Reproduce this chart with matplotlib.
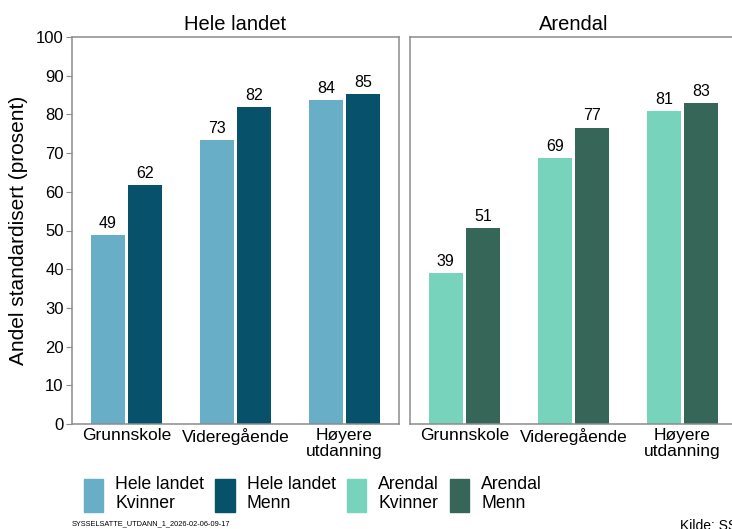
import matplotlib.pyplot as plt
from matplotlib.patches import Patch
import numpy as np

plt.rcParams['font.family'] = ['Liberation Sans', 'DejaVu Sans']

# data
categories = ['Grunnskole', 'Videregående', 'Høyere\nutdanning']
panels = ['Hele landet', 'Arendal']
kvinner = {'Hele landet': [48.9, 73.4, 83.7], 'Arendal': [39.1, 68.8, 80.9]}
menn = {'Hele landet': [61.8, 81.9, 85.2], 'Arendal': [50.6, 76.6, 82.9]}
colors = {'Hele landet': ('#68AEC6', '#07516A'), 'Arendal': ('#78D3BC', '#366657')}
yticks = list(range(0, 101, 10))

fig = plt.figure(figsize=(7.32, 5.29), dpi=100)
W, H = 732, 529
axes = [fig.add_axes([72/W, 1-424/H, 327/W, 387/H]),
        fig.add_axes([410/W, 1-424/H, 327/W, 387/H])]

x = np.arange(1, len(categories)+1)
w = 0.31
off = 0.172
for ax, p in zip(axes, panels):
  ck, cm = colors[p]
  b1 = ax.bar(x-off, kvinner[p], w, color=ck)
  b2 = ax.bar(x+off, menn[p], w, color=cm)
  for bars in (b1, b2):
    ax.bar_label(bars, labels=[str(int(round(v))) for v in bars.datavalues],
                 padding=3, fontsize=11.5)
  ax.set_xlim(0.5, 3.5)
  ax.set_ylim(0, 100)
  ax.set_xticks(x)
  ax.set_xticklabels(categories, fontsize=12.5, linespacing=1.05)
  ax.tick_params(axis='x', length=0, pad=3)
  ax.set_yticks(yticks)
  for s in ax.spines.values():
    s.set_color('#8c8c8c')
    s.set_linewidth(1.1)
  ax.set_title(p, fontsize=14.5, pad=5)

axes[0].tick_params(axis='y', length=4, color='#8c8c8c', labelsize=12, pad=2)
axes[0].set_ylabel('Andel standardisert (prosent)', fontsize=15, labelpad=6)
axes[1].tick_params(axis='y', left=False, labelleft=False)

handles = [Patch(color=colors['Hele landet'][0], label='Hele landet\nKvinner'),
           Patch(color=colors['Hele landet'][1], label='Hele landet\nMenn'),
           Patch(color=colors['Arendal'][0], label='Arendal\nKvinner'),
           Patch(color=colors['Arendal'][1], label='Arendal\nMenn')]
fig.legend(handles=handles, loc='center left', bbox_to_anchor=(84/W, 1-494/H),
           ncol=4, frameon=False, fontsize=12.7, handlelength=1.1, handleheight=2.5,
           handletextpad=0.68, columnspacing=0.62, borderaxespad=0, borderpad=0)

fig.text(72/W, 1-524/H, 'SYSSELSATTE_UTDANN_1_2026-02-06-09-17', fontsize=5.3, va='center')
fig.text(680/W, 1-526/H, 'Kilde: SSB', fontsize=10, va='center')

plt.savefig('out.png', dpi=100)
